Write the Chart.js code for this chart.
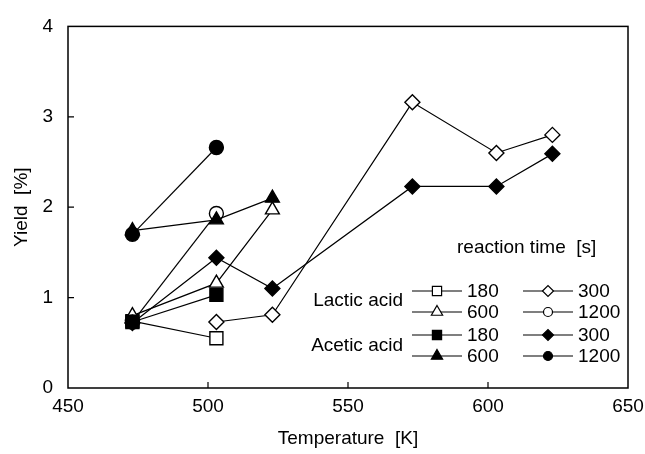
<!DOCTYPE html>
<html>
<head>
<meta charset="utf-8">
<script src="https://cdn.jsdelivr.net/npm/chart.js@4.4.1/dist/chart.umd.min.js"></script>
<style>
  body { margin: 0; background: #fff; }
  #wrap { width: 645px; height: 454px; }
</style>
</head>
<body>
<div id="wrap"><canvas id="yieldChart" width="645" height="454"></canvas></div>
<script>
// temperatures [K]
const temps = [473, 503, 523, 573, 603, 623];

// yields [%], null = not measured
const lactic180  = [0.74, 0.55, null, null, null, null];
const lactic300  = [null, 0.73, 0.81, 3.16, 2.60, 2.80];
const lactic600  = [0.80, 1.16, 1.97, null, null, null];
const lactic1200 = [0.73, 1.93, null, null, null, null];
const acetic180  = [0.73, 1.03, null, null, null, null];
const acetic300  = [0.72, 1.44, 1.10, 2.23, 2.23, 2.59];
const acetic600  = [1.74, 1.86, 2.10, null, null, null];
const acetic1200 = [1.70, 2.66, null, null, null, null];

const xTicks = [450, 500, 550, 600, 650];
const yTicks = [0, 1, 2, 3, 4];

const FONT = '"Liberation Sans", Arial, sans-serif';

function pts(vals) {
  const out = [];
  vals.forEach((v, i) => { if (v !== null) out.push({ x: temps[i], y: v }); });
  return out;
}

// marker styles (chart and legend)
const styles = {
  square:   { pointStyle: 'rect',     radius: 9.2, legendRadius: 6.5 },
  diamond:  { pointStyle: 'rectRot',  radius: 7.5, legendRadius: 5.5 },
  triangle: { pointStyle: 'triangle', radius: 8,   legendRadius: 6.5 },
  circle:   { pointStyle: 'circle',   radius: 7,   legendRadius: 4.5 }
};

function series(label, vals, shape, filled) {
  const s = styles[shape];
  return {
    label: label,
    data: pts(vals),
    showLine: true,
    borderColor: '#000',
    borderWidth: 1.2,
    pointStyle: s.pointStyle,
    pointRadius: s.radius,
    pointHoverRadius: s.radius,
    pointBorderColor: '#000',
    pointBorderWidth: 1.4,
    pointBackgroundColor: filled ? '#000' : '#fff',
    shape: shape,
    filled: filled
  };
}

// earlier datasets are drawn on top
const datasets = [
  series('Acetic acid 600', acetic600, 'triangle', true),
  series('Acetic acid 1200', acetic1200, 'circle', true),
  series('Acetic acid 300', acetic300, 'diamond', true),
  series('Acetic acid 180', acetic180, 'square', true),
  series('Lactic acid 1200', lactic1200, 'circle', false),
  series('Lactic acid 600', lactic600, 'triangle', false),
  series('Lactic acid 300', lactic300, 'diamond', false),
  series('Lactic acid 180', lactic180, 'square', false)
];

function marker(ctx, shape, filled, x, y) {
  const s = styles[shape];
  ctx.save();
  ctx.fillStyle = filled ? '#000' : '#fff';
  ctx.strokeStyle = '#000';
  ctx.lineWidth = 1.2;
  Chart.helpers.drawPoint(ctx, { pointStyle: s.pointStyle, radius: s.legendRadius, rotation: 0, borderWidth: 1.2 }, x, y);
  ctx.restore();
}

const framePlugin = {
  id: 'frame',
  beforeDatasetsDraw(chart) {
    const { ctx, chartArea: a, scales } = chart;
    ctx.save();
    ctx.strokeStyle = '#000';
    ctx.lineWidth = 1.5;
    ctx.strokeRect(a.left, a.top, a.right - a.left, a.bottom - a.top);
    ctx.lineWidth = 1.2;
    ctx.beginPath();
    yTicks.slice(1, -1).forEach(v => {
      const y = scales.y.getPixelForValue(v);
      ctx.moveTo(a.left, y); ctx.lineTo(a.left + 6, y);
    });
    xTicks.slice(1, -1).forEach(v => {
      const x = scales.x.getPixelForValue(v);
      ctx.moveTo(x, a.bottom); ctx.lineTo(x, a.bottom - 6);
    });
    ctx.stroke();
    ctx.restore();
  }
};

// legend laid out like the original figure
const legendRows = [
  [['Lactic acid 180', '180'], ['Lactic acid 300', '300']],
  [['Lactic acid 600', '600'], ['Lactic acid 1200', '1200']],
  [['Acetic acid 180', '180'], ['Acetic acid 300', '300']],
  [['Acetic acid 600', '600'], ['Acetic acid 1200', '1200']]
];
const rowY = [291, 312, 335, 356];
const colX = [412, 523];

const legendPlugin = {
  id: 'figLegend',
  afterDatasetsDraw(chart) {
    const ctx = chart.ctx;
    ctx.save();
    ctx.fillStyle = '#000';
    ctx.font = '19px ' + FONT;
    ctx.textBaseline = 'middle';
    ctx.textAlign = 'left';
    ctx.fillText('reaction time  [s]', 457, 248);
    ctx.textAlign = 'right';
    ctx.fillText('Lactic acid', 403, 301);
    ctx.fillText('Acetic acid', 403, 346);
    ctx.textAlign = 'left';
    legendRows.forEach((row, r) => {
      row.forEach((item, c) => {
        const ds = datasets.find(d => d.label === item[0]);
        const x0 = colX[c], y = rowY[r];
        ctx.strokeStyle = '#000';
        ctx.lineWidth = 1.2;
        ctx.beginPath();
        ctx.moveTo(x0, y); ctx.lineTo(x0 + 50, y);
        ctx.stroke();
        marker(ctx, ds.shape, ds.filled, x0 + 25, y);
        ctx.fillText(item[1], x0 + 55, y + 1);
      });
    });
    ctx.restore();
  }
};

new Chart(document.getElementById('yieldChart'), {
  type: 'scatter',
  data: { datasets: datasets },
  options: {
    responsive: false,
    animation: false,
    layout: { padding: { top: 21, right: 17, left: 0, bottom: 0 } },
    plugins: { legend: { display: false }, tooltip: { enabled: false } },
    scales: {
      x: {
        type: 'linear', min: 450, max: 650,
        afterFit(scale) { scale.height = 66; scale.paddingRight = 17; scale.paddingLeft = 0; },
        afterBuildTicks(scale) { scale.ticks = xTicks.map(v => ({ value: v })); },
        grid: { display: false, drawTicks: false },
        border: { display: false },
        ticks: { color: '#000', font: { family: FONT, size: 19 }, padding: 7, maxRotation: 0 },
        title: { display: true, text: 'Temperature  [K]', color: '#000', font: { family: FONT, size: 19 }, padding: { top: 2 } }
      },
      y: {
        type: 'linear', min: 0, max: 4,
        afterFit(scale) { scale.width = 68; },
        afterBuildTicks(scale) { scale.ticks = yTicks.map(v => ({ value: v })); },
        grid: { display: false, drawTicks: false },
        border: { display: false },
        ticks: { color: '#000', font: { family: FONT, size: 19 }, padding: 15 },
        title: { display: true, text: 'Yield  [%]', color: '#000', font: { family: FONT, size: 19 }, padding: { top: 10, bottom: 0 } }
      }
    }
  },
  plugins: [framePlugin, legendPlugin]
});
</script>
</body>
</html>
